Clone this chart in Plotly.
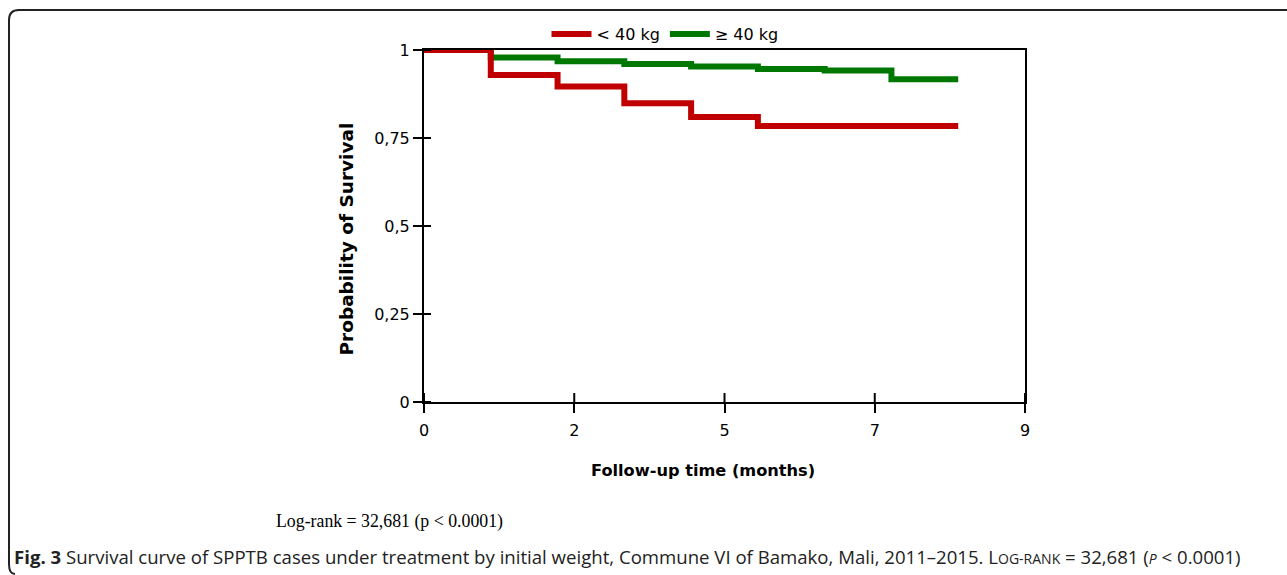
import plotly.graph_objects as go

# Data
time_points = [0, 1, 2, 3, 4, 5, 6, 7, 8]
surv_under40 = [1.0, 0.929, 0.896, 0.849, 0.810, 0.784, 0.784, 0.784, 0.784]
surv_over40 = [1.0, 0.979, 0.968, 0.960, 0.953, 0.946, 0.942, 0.917, 0.917]
group_names = ["< 40 kg", "≥ 40 kg"]
group_colors = ["#c00000", "#007800"]
x_tickvals = [0, 2.25, 4.5, 6.75, 9]
x_ticklabels = ["0", "2", "5", "7", "9"]
y_tickvals = [0, 0.25, 0.5, 0.75, 1]
y_ticklabels = ["0", "0,25", "0,5", "0,75", "1"]

W, H = 1287, 575
L, R, T, B = 424, 1025, 50, 402

def px(x):
    return (x - L) / (R - L)

def py(y):
    return (B - y) / (B - T)

fig = go.Figure()
fig.add_trace(go.Scatter(x=time_points, y=surv_over40, mode="lines", name=group_names[1],
                         line=dict(color=group_colors[1], width=6, shape="hv"), legendrank=2))
fig.add_trace(go.Scatter(x=time_points, y=surv_under40, mode="lines", name=group_names[0],
                         line=dict(color=group_colors[0], width=6, shape="hv"), legendrank=1))

axis_common = dict(showgrid=False, zeroline=False, showline=True, linecolor="black", linewidth=2,
                   ticks="outside", ticklen=9, tickwidth=2, tickcolor="black",
                   tickfont=dict(family="DejaVu Sans", size=16, color="black"), mirror=True)

fig.update_xaxes(range=[0, 9], tickvals=x_tickvals, ticktext=x_ticklabels, ticklabelstandoff=4,
                 **axis_common)
fig.update_yaxes(range=[0, 1], tickvals=y_tickvals, ticktext=y_ticklabels, **axis_common)

fig.add_annotation(text="<b>Follow-up time (months)</b>", xref="paper", yref="paper",
                   x=px(702.5), y=py(470), xanchor="center", yanchor="middle", showarrow=False,
                   font=dict(family="DejaVu Sans", size=16.2, color="black"))
fig.add_annotation(text="<b>Probability of Survival</b>", textangle=-90, xref="paper", yref="paper",
                   x=px(346.5), y=py(239), xanchor="center", yanchor="middle", showarrow=False,
                   font=dict(family="DejaVu Sans", size=18.5, color="black"))

# inner halves of the crossing tick marks
for v in y_tickvals:
    fig.add_shape(type="line", xref="x", yref="y", xsizemode="pixel", xanchor=0,
                  x0=0, x1=7, y0=v, y1=v, line=dict(color="black", width=2))
for v in x_tickvals:
    fig.add_shape(type="line", xref="x", yref="y", ysizemode="pixel", yanchor=0,
                  x0=v, x1=v, y0=0, y1=9, line=dict(color="black", width=2))

# outer rounded frame
r = 10
fig.add_shape(type="path", xref="paper", yref="paper",
              path=(f"M {px(1287)} {py(10)} L {px(9+r)} {py(10)} "
                    f"Q {px(9)} {py(10)} {px(9)} {py(10+r)} "
                    f"L {px(9)} {py(574-r)} Q {px(9)} {py(574)} {px(9+r*0.6)} {py(574)}"),
              line=dict(color="#222222", width=2), layer="above")

fig.add_annotation(text="Log-rank = 32,681 (p &lt; 0.0001)", xref="paper", yref="paper",
                   x=px(274), y=py(521), xanchor="left", yanchor="middle", showarrow=False,
                   font=dict(family="Liberation Serif", size=17.8, color="black"))
fig.add_annotation(text=("<b>Fig. 3</b> Survival curve of SPPTB cases under treatment by initial weight, "
                         "Commune VI of Bamako, Mali, 2011–2015. L<span style='font-size:14px'>OG-RANK</span>"
                         " = 32,681 (<i><span style='font-size:14px'>P</span></i> &lt; 0.0001)"),
                   xref="paper", yref="paper", x=px(12), y=py(556), xanchor="left", yanchor="middle",
                   showarrow=False, font=dict(family="Open Sans", size=18.6, color="#222222"))

fig.update_layout(
    width=W, height=H,
    margin=dict(l=L, r=W - R, t=T, b=H - B, autoexpand=False),
    paper_bgcolor="white", plot_bgcolor="white",
    showlegend=True,
    legend=dict(orientation="h", x=px(665), y=py(34), xanchor="center", yanchor="middle",
                font=dict(family="DejaVu Sans", size=16, color="black"), bgcolor="rgba(0,0,0,0)",
                itemwidth=40),
)

fig.write_html("out.html", config={"displayModeBar": False},
               post_script="document.body.style.margin='0';document.body.style.overflow='hidden';")
